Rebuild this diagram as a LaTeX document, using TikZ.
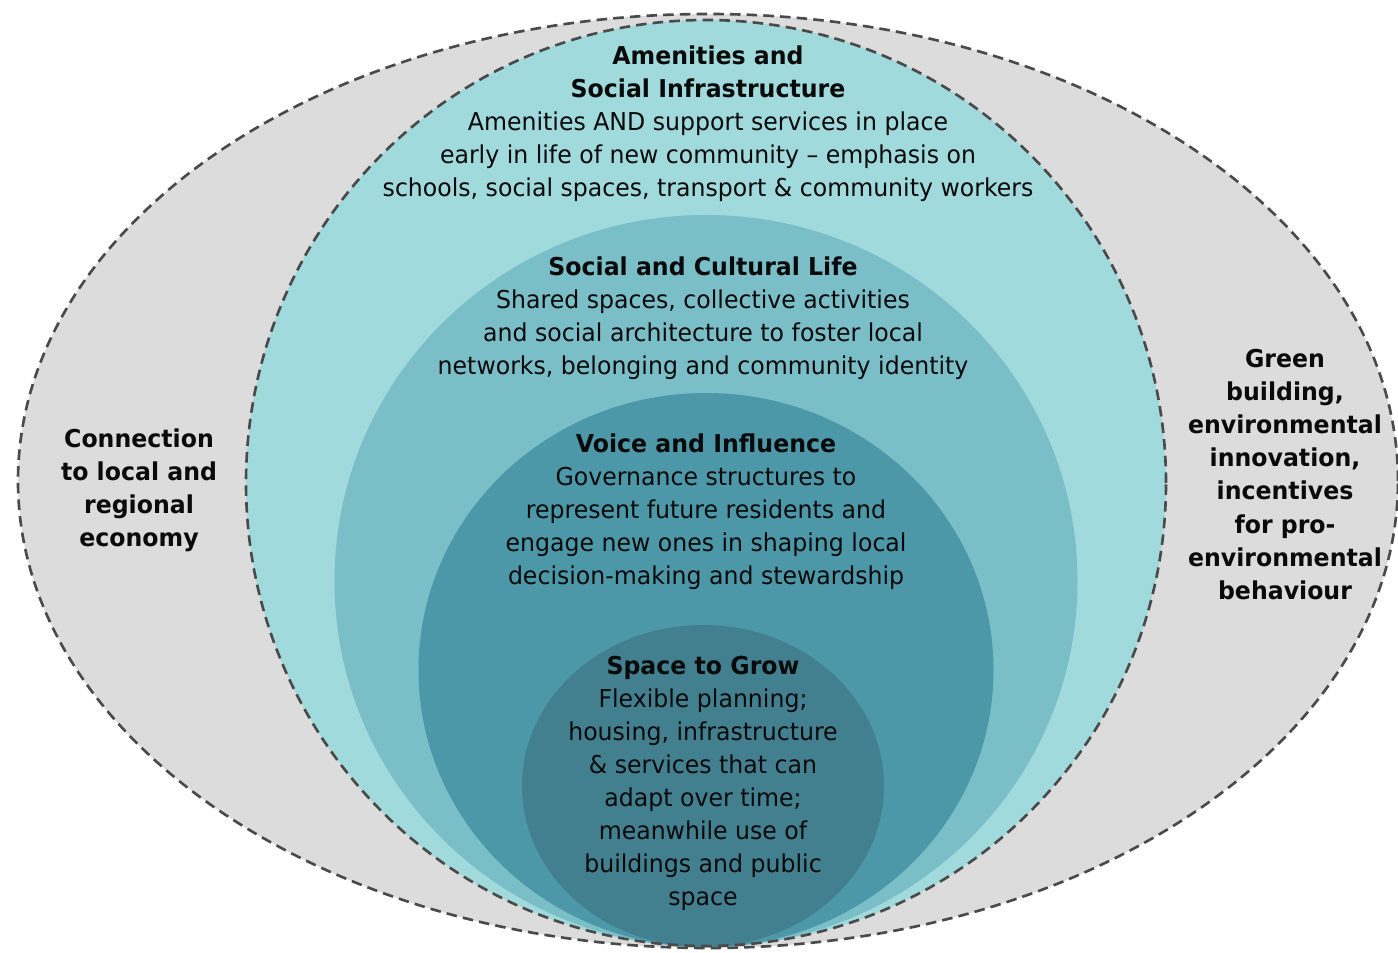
\documentclass[tikz,border=0pt]{standalone}
\usepackage{fontspec}
\setmainfont{DejaVu Sans}[FakeStretch=0.96]
\usepackage{xcolor}
\definecolor{outergray}{HTML}{DCDCDC}
\definecolor{amenteal}{HTML}{A0DADC}
\definecolor{socialteal}{HTML}{7ABEC8}
\definecolor{voiceteal}{HTML}{4C98A8}
\definecolor{spaceteal}{HTML}{428090}
\definecolor{dashgray}{HTML}{4A4A4A}
\definecolor{inktext}{HTML}{0A0A0A}

\begin{document}
\begin{tikzpicture}[ringline/.style={draw=dashgray, line width=1.5pt, dash pattern=on 6pt off 3.5pt},
ringtext/.style={align=center, text=inktext, inner sep=0pt, font=\fontsize{14}{18.8}\selectfont},
sidetext/.style={align=center, text=inktext, inner sep=0pt, font=\fontsize{14}{18.8}\selectfont\bfseries}]
\useasboundingbox (0,0) rectangle (27.96,19.04);
\fill[outergray] (14.16,9.42) ellipse [x radius=13.80cm, y radius=9.34cm];
\draw[ringline] (14.16,9.42) ellipse [x radius=13.80cm, y radius=9.34cm];
\fill[amenteal] (14.12,9.38) ellipse [x radius=9.20cm, y radius=9.26cm];
\fill[socialteal] (14.12,7.42) ellipse [x radius=7.43cm, y radius=7.32cm];
\fill[voiceteal] (14.12,5.64) ellipse [x radius=5.75cm, y radius=5.54cm];
\fill[spaceteal] (14.06,3.32) ellipse [x radius=3.62cm, y radius=3.22cm];
\draw[ringline] (14.12,9.38) ellipse [x radius=9.20cm, y radius=9.26cm];

\node[ringtext] (amenities) at (14.16,16.57) {\textbf{Amenities and}\\\textbf{Social Infrastructure}\\Amenities AND support services in place\\early in life of new community -- emphasis on\\schools, social spaces, transport \& community workers};
\node[ringtext] (social) at (14.06,12.68) {\textbf{Social and Cultural Life}\\Shared spaces, collective activities\\and social architecture to foster local\\networks, belonging and community identity};
\node[ringtext] (voice) at (14.12,8.80) {\textbf{Voice and Influence}\\Governance structures to\\represent future residents and\\engage new ones in shaping local\\decision-making and stewardship};
\node[ringtext] (space) at (14.06,3.37) {\textbf{Space to Grow}\\Flexible planning;\\housing, infrastructure\\\& services that can\\adapt over time;\\meanwhile use of\\buildings and public\\space};
\node[sidetext] (economy) at (2.78,9.23) {Connection\\to local and\\regional\\economy};
\node[sidetext] (green) at (25.70,9.55) {Green\\building,\\environmental\\innovation,\\incentives\\for pro-\\environmental\\behaviour};
\end{tikzpicture}
\end{document}
